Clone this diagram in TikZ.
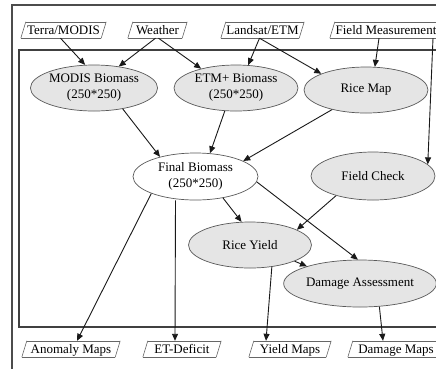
\documentclass[tikz,border=0pt]{standalone}
\usepackage{fontspec}
\setmainfont{Liberation Serif}
\usetikzlibrary{shapes.geometric,arrows.meta}
\tikzset{
  pborder/.style={draw=black!60, line width=0.6pt},
  inbox/.style={rectangle, draw=none, inner xsep=1pt, inner ysep=0pt,
    minimum height=16pt, text depth=0pt, text height=9pt,
    append after command={
      ([xshift=-2.5pt]\tikzlastnode.south west) edge[pborder] ([xshift=2.5pt]\tikzlastnode.north west)
      ([xshift=2.5pt]\tikzlastnode.north west) edge[pborder] ([xshift=2.5pt]\tikzlastnode.north east)
      ([xshift=2.5pt]\tikzlastnode.north east) edge[pborder] ([xshift=-2.5pt]\tikzlastnode.south east)
      ([xshift=-2.5pt]\tikzlastnode.south east) edge[pborder] ([xshift=-2.5pt]\tikzlastnode.south west)
    }},
  proc/.style={ellipse, draw=black!65, line width=0.7pt, fill=black!10,
    minimum width=124pt, minimum height=46pt, inner sep=0pt, align=center},
  whiteproc/.style={proc, fill=white},
  arr/.style={draw=black!90, line width=0.9pt, -{Triangle[length=7pt,width=6pt]}},
  frameouter/.style={draw=black!70, line width=2.4pt},
  frameinner/.style={draw=black!75, line width=1.3pt}
}
\begin{document}
\begin{tikzpicture}[x=1pt,y=-1pt,font=\fontsize{13}{16}\selectfont]
\clip (0,0) rectangle (436,368);
\fill[white] (0,0) rectangle (436,368);
% frames
\draw[frameouter] (12,5) rectangle (470,400);
\draw[frameinner] (19,50) rectangle (470,327);
% input boxes
\node[inbox, minimum width=80pt] (terra) at (63.5,30) {Terra/MODIS};
\node[inbox, minimum width=54pt] (weather) at (157.5,30) {Weather};
\node[inbox, minimum width=78pt] (landsat) at (262.5,30) {Landsat/ETM};
\node[inbox, minimum width=107pt] (fieldm) at (386,30) {Field Measurement};
% processes
\node[proc] (modis) at (94,88) {MODIS Biomass\\(250*250)};
\node[proc] (etm) at (236,88) {ETM+ Biomass\\(250*250)};
\node[proc] (ricemap) at (366,90) {Rice Map};
\node[whiteproc, minimum width=125pt, minimum height=47pt] (final) at (195.5,176.5) {Final Biomass\\(250*250)};
\node[proc, minimum height=48pt] (fieldcheck) at (373,176) {Field Check};
\node[proc, minimum width=123pt] (riceyield) at (250,245) {Rice Yield};
\node[proc, minimum width=120pt, minimum height=47pt] (damage) at (360,283.5) {Damage Assessment};
% outputs
\node[inbox, minimum width=93pt] (anomaly) at (71,349) {Anomaly Maps};
\node[inbox, minimum width=73pt] (etdef) at (182,349) {ET-Deficit};
\node[inbox, minimum width=77pt] (yieldmaps) at (290,349) {Yield Maps};
\node[inbox, minimum width=91pt] (damagemaps) at (396,349) {Damage Maps};
% connectors
\draw[arr] ([xshift=-3pt]terra.south) -- (modis.111);
\draw[arr] ([xshift=-2pt]weather.south) -- (modis.41);
\draw[arr] ([xshift=1pt]weather.south) -- (etm.151);
\draw[arr] ([xshift=-3pt]landsat.south) -- (etm.62);
\draw[arr] ([xshift=-3pt]landsat.south) -- (ricemap.160);
\draw[arr] ([xshift=-7pt]fieldm.south) -- (ricemap.69);
\draw[arr] ([xshift=47pt]fieldm.south) -- (fieldcheck.12);
\draw[arr] (modis.-36) -- (final.151);
\draw[arr] (etm.-116) -- (final.58);
\draw[arr] (ricemap.-150) -- (final.18);
\draw[arr] (final.-38) -- (riceyield.110);
\draw[arr] (final.-5) -- (damage.95);
\draw[arr] (fieldcheck.-152) -- (riceyield.18);
\draw[arr] (riceyield.-20) -- (damage.162);
\draw[arr] (final.-159) -- ([xshift=6pt]anomaly.north);
\draw[arr] ([xshift=-20pt]final.south) -- ([xshift=-7pt]etdef.north);
\draw[arr] (riceyield.-45) -- ([xshift=-24pt]yieldmaps.north);
\draw[arr] (damage.-50) -- ([xshift=-13pt]damagemaps.north);
\end{tikzpicture}
\end{document}
